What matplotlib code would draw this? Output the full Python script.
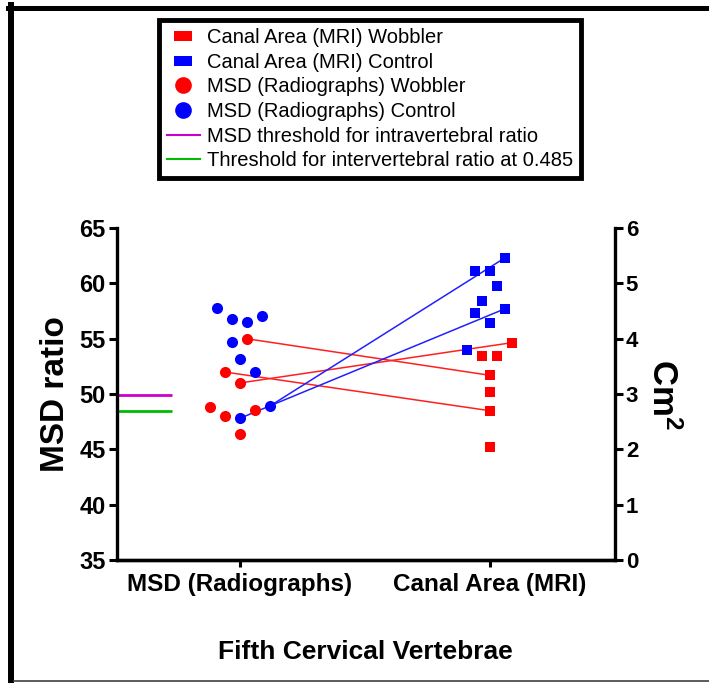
import numpy as np
import matplotlib.pyplot as plt
from matplotlib.lines import Line2D
from matplotlib.patches import ConnectionPatch

plt.rcParams['font.family'] = ['Liberation Sans', 'DejaVu Sans']
plt.rcParams['mathtext.fontset'] = 'custom'
plt.rcParams['mathtext.rm'] = 'Liberation Sans:bold'
plt.rcParams['mathtext.it'] = 'Liberation Sans:italic'
plt.rcParams['mathtext.bf'] = 'Liberation Sans:bold'

categories = ['MSD (Radiographs)', 'Canal Area (MRI)']

# MSD ratio (left axis) from radiographs
msd_wobbler = [55.0, 52.0, 51.0, 48.8, 48.0, 48.6, 46.4]
msd_control = [57.8, 56.75, 56.5, 57.1, 54.7, 53.2, 52.0, 48.9, 47.8]
# canal area in cm2 (right axis) from MRI
canal_wobbler = [3.93, 3.69, 3.69, 3.34, 3.04, 2.70, 2.05]
canal_control = [5.46, 5.22, 5.22, 4.95, 4.69, 4.47, 4.54, 4.29, 3.80]

msd_threshold = 49.9
inter_threshold = 48.5

# (msd index, canal index) of the same dog, joined by a line
wobbler_pairs = [(0, 3), (1, 5), (2, 0)]
control_pairs = [(7, 0), (8, 6)]

# scatter columns (how many steps off the category centre)
msd_wobbler_k = [1, -2, 0, -4, -2, 2, 0]
msd_control_k = [-3, -1, 1, 3, -1, 0, 2, 4, 0]
canal_wobbler_k = [3, -1, 1, 0, 0, 0, 0]
canal_control_k = [2, -2, 0, 1, -1, -2, 2, 0, -3]
step = 0.03

x_msd_w = 0 + step*np.array(msd_wobbler_k)
x_msd_c = 0 + step*np.array(msd_control_k)
x_can_w = 1 + step*np.array(canal_wobbler_k)
x_can_c = 1 + step*np.array(canal_control_k)

fig = plt.figure(figsize=(7.09, 6.83), dpi=100)
ax = fig.add_axes([0.165, 0.180, 0.702, 0.486])
ax2 = ax.twinx()
ax.set_zorder(ax2.get_zorder()+1)  # circles on top of the lines
ax.patch.set_visible(False)

ax2.plot(x_can_w, canal_wobbler, 's', color='#ff0000', ms=7.6, mew=0, zorder=3)
ax2.plot(x_can_c, canal_control, 's', color='#0000ff', ms=7.6, mew=0, zorder=3)
ax.plot(x_msd_w, msd_wobbler, 'o', color='#ff0000', ms=8, mew=0, zorder=3)
ax.plot(x_msd_c, msd_control, 'o', color='#0000ff', ms=8, mew=0, zorder=3)

for pairs, xm, ym, xc, yc, col in [(wobbler_pairs, x_msd_w, msd_wobbler, x_can_w, canal_wobbler, '#ff2020'),
                                   (control_pairs, x_msd_c, msd_control, x_can_c, canal_control, '#2020ff')]:
    for i, j in pairs:
        con = ConnectionPatch(xyA=(xm[i], ym[i]), coordsA=ax.transData,
                              xyB=(xc[j], yc[j]), coordsB=ax2.transData,
                              color=col, lw=1.1, zorder=1)
        ax2.add_artist(con)

ax.hlines(msd_threshold, -0.49, -0.27, color='#cc00cc', lw=2)
ax.hlines(inter_threshold, -0.49, -0.27, color='#00bb00', lw=2)

ax.set_xlim(-0.49, 1.5)
ax.set_ylim(35, 65)
ax2.set_ylim(0, 6)
ax.set_yticks(np.arange(35, 66, 5))
ax2.set_yticks(np.arange(0, 7, 1))
ax.set_xticks([0, 1])
ax.set_xticklabels(categories)

for a in (ax, ax2):
    for s in a.spines.values():
        s.set_linewidth(2.4)
    a.spines['top'].set_visible(False)
ax.spines['right'].set_visible(False)
ax2.spines['left'].set_visible(False)

ax.tick_params(axis='y', width=2.2, length=6, pad=2, labelsize=17)
ax.tick_params(axis='x', width=2.2, length=5, pad=4, labelsize=17.5)
ax2.tick_params(axis='y', width=2.2, length=6, pad=2, labelsize=16)
for lab in ax.get_xticklabels() + ax.get_yticklabels() + ax2.get_yticklabels():
    lab.set_fontweight('bold')

ax.set_ylabel('MSD ratio', fontsize=24, fontweight='bold', labelpad=6)
ax2.set_ylabel('Cm$^2$', fontsize=25, fontweight='bold', rotation=270, labelpad=30)
ax.set_xlabel('Fifth Cervical Vertebrae', fontsize=19, fontweight='bold', labelpad=32)

rect = [(-1, -0.5), (1, -0.5), (1, 0.5), (-1, 0.5), (-1, -0.5)]
handles = [
    Line2D([], [], ls='none', marker=rect, ms=13, color='#ff0000', mew=0),
    Line2D([], [], ls='none', marker=rect, ms=13, color='#0000ff', mew=0),
    Line2D([], [], ls='none', marker='o', ms=12, color='#ff0000', mew=0),
    Line2D([], [], ls='none', marker='o', ms=12, color='#0000ff', mew=0),
    Line2D([], [], color='#cc00cc', lw=1.5),
    Line2D([], [], color='#00bb00', lw=1.5),
]
labels = ['Canal Area (MRI) Wobbler', 'Canal Area (MRI) Control',
          'MSD (Radiographs) Wobbler', 'MSD (Radiographs) Control',
          'MSD threshold for intravertebral ratio',
          'Threshold for intervertebral ratio at 0.485']
leg = fig.legend(handles, labels, loc='upper center', bbox_to_anchor=(370/709, 1-20/683),
                 fontsize=14.5, fancybox=False, edgecolor='black', framealpha=1,
                 handlelength=1.6, handletextpad=0.35, labelspacing=0.28,
                 borderpad=0.4, borderaxespad=0)
leg.get_frame().set_linewidth(3.5)

# frame of the cropped screenshot
fig.add_artist(Line2D([8/709, 1], [1-7.5/683, 1-7.5/683], color='black', lw=3.6, transform=fig.transFigure))
fig.add_artist(Line2D([11/709, 11/709], [0, 1-5/683], color='black', lw=4.3, transform=fig.transFigure))
fig.add_artist(Line2D([14/709, 1], [2/683, 2/683], color='#404040', lw=1.2, transform=fig.transFigure))

fig.savefig('out.png', dpi=100)
